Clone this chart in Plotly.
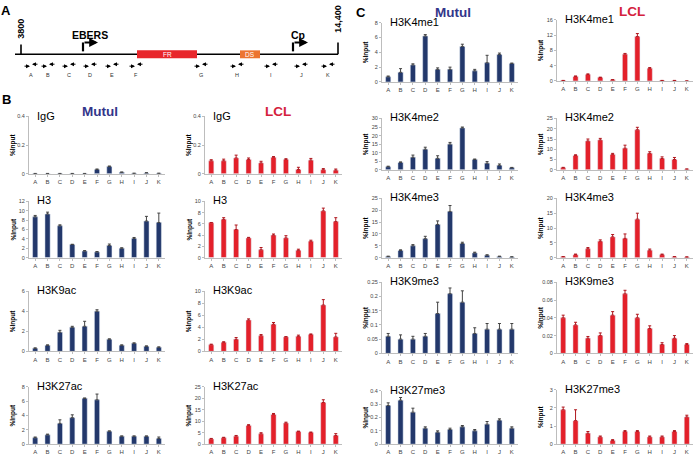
import plotly.graph_objects as go

W, H = 696, 459
cats = ['A', 'B', 'C', 'D', 'E', 'F', 'G', 'H', 'I', 'J', 'K']

# ---- Panel B data ----
mutul_igg = [0.002, 0.002, 0.002, 0.002, 0.002, 0.03, 0.05, 0.01, 0.003, 0.006, 0.003]
mutul_igg_err = [0, 0, 0, 0, 0, 0.003, 0.004, 0.002, 0, 0.001, 0]
lcl_igg = [0.09, 0.09, 0.11, 0.10, 0.075, 0.115, 0.10, 0.03, 0.095, 0.028, 0.025]
lcl_igg_err = [0.008, 0.012, 0.02, 0.01, 0.012, 0.005, 0.005, 0.015, 0.012, 0.008, 0.008]
mutul_h3 = [8.7, 9.3, 6.8, 2.8, 1.4, 1.2, 2.6, 2.0, 4.1, 7.8, 7.5]
mutul_h3_err = [0.3, 0.4, 0.2, 0.05, 0.1, 0.1, 0.3, 0.1, 0.2, 1.0, 2.0]
lcl_h3 = [6.2, 6.8, 5.0, 3.5, 1.4, 4.0, 3.5, 1.3, 2.9, 8.3, 6.4]
lcl_h3_err = [0.05, 0.3, 0.8, 0.1, 0.4, 0.2, 0.4, 0.2, 0.2, 0.5, 0.7]
mutul_h3k9ac = [0.3, 0.6, 1.9, 2.4, 2.5, 4.0, 1.2, 0.6, 0.8, 0.5, 0.4]
mutul_h3k9ac_err = [0.05, 0.05, 0.2, 0.1, 0.5, 0.15, 0.05, 0.05, 0.05, 0.05, 0.05]
lcl_h3k9ac = [1.1, 1.5, 2.0, 5.2, 2.6, 4.5, 2.4, 2.5, 2.8, 7.7, 2.4]
lcl_h3k9ac_err = [0.1, 0.1, 0.3, 0.2, 0.2, 0.3, 0.05, 0.2, 0.1, 0.9, 0.6]
mutul_h3k27ac = [0.9, 1.3, 2.9, 3.7, 6.4, 6.2, 1.8, 1.1, 1.1, 1.1, 0.8]
mutul_h3k27ac_err = [0.1, 0.1, 0.5, 0.4, 0.05, 0.8, 0.05, 0.05, 0.05, 0.05, 0.2]
lcl_h3k27ac = [2.3, 2.8, 3.5, 8.2, 4.5, 13.0, 9.2, 5.5, 5.1, 18.2, 3.8]
lcl_h3k27ac_err = [0.2, 0.2, 0.3, 0.3, 0.5, 0.4, 0.4, 0.2, 0.2, 1.2, 0.8]

# ---- Panel C data ----
mutul_h3k4me1 = [0.7, 1.3, 2.3, 6.2, 1.7, 1.7, 4.8, 1.5, 2.6, 3.7, 2.5]
mutul_h3k4me1_err = [0.1, 0.5, 0.15, 0.2, 0.2, 0.3, 0.3, 0.2, 1.0, 0.2, 0.05]
lcl_h3k4me1 = [0.1, 1.2, 1.7, 0.9, 0.3, 7.0, 11.6, 3.3, 0.1, 0.1, 0.0]
lcl_h3k4me1_err = [0.05, 0.1, 0.15, 0.1, 0.05, 0.2, 0.8, 0.2, 0.05, 0.05, 0]
mutul_h3k4me2 = [1.8, 4.3, 7.3, 12.0, 6.7, 15.0, 24.5, 6.0, 3.8, 2.6, 1.2]
mutul_h3k4me2_err = [0.3, 0.3, 1.3, 1.2, 1.5, 1.0, 0.5, 0.3, 1.0, 0.8, 0.2]
lcl_h3k4me2 = [1.0, 7.0, 14.0, 14.5, 7.5, 10.5, 19.5, 8.0, 5.5, 5.0, 0.3]
lcl_h3k4me2_err = [0.2, 0.3, 1.0, 0.8, 0.5, 1.5, 1.2, 0.8, 0.8, 1.0, 0.1]
mutul_h3k4me3 = [0.5, 3.0, 5.0, 8.0, 14.0, 19.5, 6.0, 2.0, 1.0, 0.5, 0.3]
mutul_h3k4me3_err = [0.1, 0.3, 0.5, 1.0, 1.5, 2.5, 0.5, 0.3, 0.2, 0.1, 0.05]
lcl_h3k4me3 = [0.3, 1.0, 3.0, 5.5, 7.0, 6.5, 13.0, 2.5, 1.0, 0.3, 0.2]
lcl_h3k4me3_err = [0.05, 0.2, 0.4, 0.5, 0.8, 1.5, 2.0, 0.4, 0.2, 0.05, 0.05]
mutul_h3k9me3 = [0.06, 0.05, 0.05, 0.06, 0.14, 0.21, 0.18, 0.07, 0.085, 0.085, 0.085]
mutul_h3k9me3_err = [0.01, 0.015, 0.01, 0.01, 0.04, 0.02, 0.04, 0.02, 0.02, 0.02, 0.02]
lcl_h3k9me3 = [0.04, 0.032, 0.017, 0.02, 0.043, 0.067, 0.04, 0.028, 0.01, 0.017, 0.01]
lcl_h3k9me3_err = [0.003, 0.003, 0.002, 0.003, 0.004, 0.004, 0.004, 0.003, 0.002, 0.003, 0.001]
mutul_h3k27me3 = [0.29, 0.33, 0.24, 0.12, 0.09, 0.11, 0.13, 0.10, 0.15, 0.18, 0.12]
mutul_h3k27me3_err = [0.02, 0.02, 0.03, 0.01, 0.01, 0.01, 0.01, 0.01, 0.02, 0.01, 0.01]
lcl_h3k27me3 = [1.9, 1.3, 0.6, 0.4, 0.2, 0.7, 0.7, 0.4, 0.4, 0.7, 1.5]
lcl_h3k27me3_err = [0.15, 0.6, 0.1, 0.05, 0.05, 0.05, 0.05, 0.05, 0.05, 0.05, 0.1]

# primer labels in diagram
primers = ['A', 'B', 'C', 'D', 'E', 'F', 'G', 'H', 'I', 'J', 'K']

NAVY = '#23386b'
RED = '#e3202a'
FONT = 'Arial, Liberation Sans, sans-serif'


def px(x):
    return x / W


def py(y):
    return 1 - y / H


annotations = []
shapes = []


def note(x, y, text, size, color='black', angle=0, xanchor='center'):
    annotations.append(dict(x=px(x), y=py(y), xref='paper', yref='paper', text=text,
                            showarrow=False, xanchor=xanchor, yanchor='middle',
                            textangle=angle, font=dict(size=size, color=color, family=FONT)))


def arrow(xh, yh, dx, w, size):
    annotations.append(dict(x=px(xh), y=py(yh), ax=dx, ay=0, xref='paper', yref='paper',
                            showarrow=True, arrowhead=2, arrowsize=size, arrowwidth=w,
                            arrowcolor='black', text='', xanchor='center', yanchor='middle'))


colB_m = (29, 165)
colB_l = (205, 342)
colC_m = (382, 518)
colC_l = (557, 693)
panels = [
    ('IgG', mutul_igg, mutul_igg_err, NAVY, colB_m, (115, 173), 0.4, 0.2),
    ('IgG', lcl_igg, lcl_igg_err, RED, colB_l, (115, 173), 0.4, 0.2),
    ('H3', mutul_h3, mutul_h3_err, NAVY, colB_m, (201, 258), 12, 2),
    ('H3', lcl_h3, lcl_h3_err, RED, colB_l, (201, 258), 10, 2),
    ('H3K9ac', mutul_h3k9ac, mutul_h3k9ac_err, NAVY, colB_m, (292, 353), 6, 2),
    ('H3K9ac', lcl_h3k9ac, lcl_h3k9ac_err, RED, colB_l, (292, 353), 10, 2),
    ('H3K27ac', mutul_h3k27ac, mutul_h3k27ac_err, NAVY, colB_m, (389, 447), 8, 2),
    ('H3K27ac', lcl_h3k27ac, lcl_h3k27ac_err, RED, colB_l, (389, 447), 25, 5),
    ('H3K4me1', mutul_h3k4me1, mutul_h3k4me1_err, NAVY, colC_m, (20, 80), 8, 2),
    ('H3K4me1', lcl_h3k4me1, lcl_h3k4me1_err, RED, colC_l, (17, 79), 16, 4),
    ('H3K4me2', mutul_h3k4me2, mutul_h3k4me2_err, NAVY, colC_m, (117, 169), 30, 5),
    ('H3K4me2', lcl_h3k4me2, lcl_h3k4me2_err, RED, colC_l, (117, 169), 25, 5),
    ('H3K4me3', mutul_h3k4me3, mutul_h3k4me3_err, NAVY, colC_m, (198, 258), 25, 5),
    ('H3K4me3', lcl_h3k4me3, lcl_h3k4me3_err, RED, colC_l, (198, 258), 20, 5),
    ('H3K9me3', mutul_h3k9me3, mutul_h3k9me3_err, NAVY, colC_m, (283, 355), 0.25, 0.05),
    ('H3K9me3', lcl_h3k9me3, lcl_h3k9me3_err, RED, colC_l, (283, 355), 0.08, 0.02),
    ('H3K27me3', mutul_h3k27me3, mutul_h3k27me3_err, NAVY, colC_m, (393, 447), 0.4, 0.1),
    ('H3K27me3', lcl_h3k27me3, lcl_h3k27me3_err, RED, colC_l, (392, 447), 3, 1),
]

fig = go.Figure()
layout = {}

for i, (lab, vals, errs, col, (x0, x1), (yt, yb), ymax, dt) in enumerate(panels, start=1):
    xa = 'x' if i == 1 else f'x{i}'
    ya = 'y' if i == 1 else f'y{i}'
    errcol = '#444444' if col == NAVY else '#b0181f'
    fig.add_trace(go.Bar(
        x=cats, y=vals, xaxis=xa, yaxis=ya, marker_color=col, width=0.42,
        error_y=dict(type='data', array=errs, arrayminus=[0] * len(errs), symmetric=False,
                     color=errcol, thickness=1, width=1.5),
        showlegend=False))
    xk = 'xaxis' if i == 1 else f'xaxis{i}'
    yk = 'yaxis' if i == 1 else f'yaxis{i}'
    layout[xk] = dict(domain=[px(x0), px(x1)], anchor=ya, type='category',
                      range=[-0.5, 10.5], showline=True, linecolor='#bdbdbd', linewidth=1,
                      ticks='outside', ticklen=2, tickcolor='#bdbdbd',
                      tickfont=dict(size=6, color='#444', family=FONT), showgrid=False,
                      fixedrange=True)
    layout[yk] = dict(domain=[py(yb), py(yt)], anchor=xa, range=[0, ymax], dtick=dt,
                      showline=True, linecolor='#bdbdbd', linewidth=1, ticks='outside',
                      ticklen=2, tickcolor='#bdbdbd', showgrid=False, zeroline=False,
                      tickfont=dict(size=5.5, color='#444', family=FONT), fixedrange=True)
    note(x0 + 6, yt - 1, lab, 11, xanchor='left')
    note(x0 - 16, (yt + yb) / 2, '<b>%Input</b>', 6.5, angle=-90)

for t, x, y in [('A', 6, 8), ('B', 6, 98), ('C', 361, 10)]:
    note(x, y, f'<b>{t}</b>', 13)
for t, x, y, c in [('Mutul', 100, 110, '#33358a'), ('LCL', 278, 110, '#d4213d'),
                   ('Mutul', 453, 10, '#33358a'), ('LCL', 632, 9, '#d4213d')]:
    note(x, y, f'<b>{t}</b>', 13.5, color=c)


def pline(xa_, ya_, xb_, yb_, w=1.5, c='black'):
    shapes.append(dict(type='line', xref='paper', yref='paper', x0=px(xa_), y0=py(ya_),
                       x1=px(xb_), y1=py(yb_), line=dict(color=c, width=w)))


# ---- Panel A diagram ----
pline(15, 52, 338, 52, 1.6)
pline(21, 42, 21, 52, 1.6)
pline(338, 40, 338, 52, 1.6)
note(21, 26, '<b>3800</b>', 9, angle=-90)
note(338, 16, '<b>14,400</b>', 9, angle=-90)
for lbl, bx0, bx1, c in [('FR', 137, 197, '#e8262b'), ('DS', 240, 260, '#ec7430')]:
    shapes.append(dict(type='rect', xref='paper', yref='paper', x0=px(bx0), x1=px(bx1),
                       y0=py(56), y1=py(48), fillcolor=c, line=dict(width=0)))
    note((bx0 + bx1) / 2, 52, lbl, 6.5, color='white')
for lbl, ax_, lx in [('EBERS', 83, 90), ('Cp', 293, 298)]:
    pline(ax_, 49, ax_, 40, 2.2)
    arrow(ax_ + 15, 40, -15, 2.2, 0.8)
    note(lx, 32, f'<b>{lbl}</b>', 10.5)
primer_x = [31, 48, 69, 90, 112, 136, 201, 237, 271, 301, 328]
for lbl, cx in zip(primers, primer_x):
    arrow(cx - 1, 64, -7, 1, 0.8)
    arrow(cx + 1, 62, 7, 1, 0.8)
    note(cx, 73, lbl, 5.5, color='#333')

fig.update_layout(width=W, height=H, margin=dict(l=0, r=0, t=0, b=0),
                  paper_bgcolor='white', plot_bgcolor='white', bargap=0.5,
                  annotations=annotations, shapes=shapes, font=dict(family=FONT), **layout)
fig.write_html('out.html', config={'displayModeBar': False},
               post_script="document.body.style.margin='0';document.body.style.overflow='hidden';")
